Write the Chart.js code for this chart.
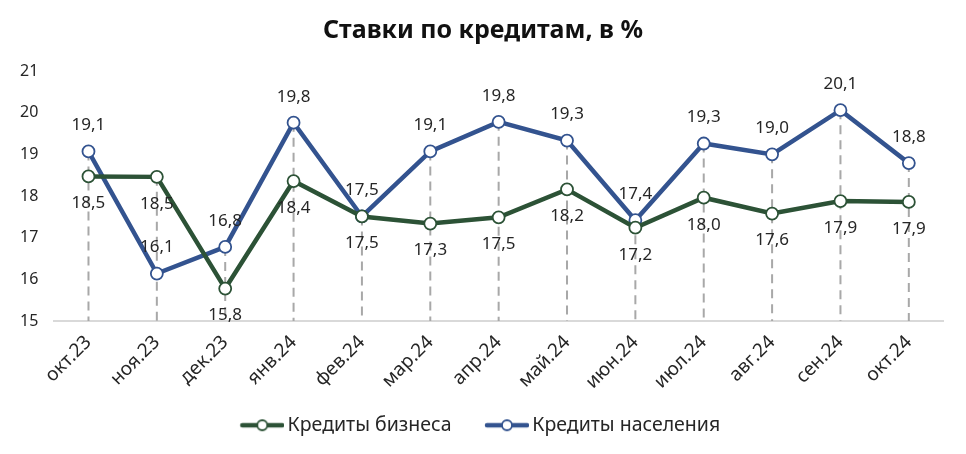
<!DOCTYPE html>
<html lang="ru">
<head>
    <meta charset="UTF-8">
    <title>Ставки по кредитам</title>
    <script src="https://cdn.jsdelivr.net/npm/chart.js"></script>
    <style>
        body { margin: 0; background: #fff; }
        #wrap { width: 966px; height: 454px; }
    </style>
</head>
<body>
<div id="wrap"><canvas id="rateChart"></canvas></div>

<script>
// месяцы
const months = ["окт.23", "ноя.23", "дек.23", "янв.24", "фев.24", "мар.24", "апр.24",
                "май.24", "июн.24", "июл.24", "авг.24", "сен.24", "окт.24"];
// ставки, %
const businessRates = [18.47, 18.46, 15.78, 18.36, 17.51, 17.34, 17.49, 18.16, 17.24, 17.96, 17.58, 17.88, 17.86];
const householdRates = [19.07, 16.14, 16.78, 19.76, 17.51, 19.07, 19.78, 19.33, 17.42, 19.26, 19.0, 20.06, 18.79];
const yTicks = [15, 16, 17, 18, 19, 20, 21];

const GREEN = "#2c5236";
const BLUE = "#33538f";
const FONT = "'Noto Sans', sans-serif";

// маркер для легенды: линия с кружком (сдвинут вправо, чтобы текст шёл вплотную)
function legendMarker(color) {
    const c = document.createElement("canvas");
    c.width = 64; c.height = 14;
    const ctx = c.getContext("2d");
    ctx.strokeStyle = color;
    ctx.lineWidth = 4.5;
    ctx.lineCap = "round";
    ctx.beginPath();
    ctx.moveTo(22, 7); ctx.lineTo(62, 7);
    ctx.stroke();
    ctx.beginPath();
    ctx.arc(42, 7, 5, 0, Math.PI * 2);
    ctx.fillStyle = "#fff";
    ctx.fill();
    ctx.lineWidth = 1.8;
    ctx.stroke();
    return c;
}

// заголовок по центру всего холста
const centerTitle = {
    id: "centerTitle",
    afterLayout(chart) {
        if (chart.titleBlock) {
            chart.titleBlock.left = 0;
            chart.titleBlock.right = chart.width;
        }
    }
};

// пунктир от верхней точки до оси
const dropLines = {
    id: "dropLines",
    beforeDatasetsDraw(chart) {
        const ctx = chart.ctx;
        const bottom = chart.chartArea.bottom;
        const metas = chart.data.datasets.map((d, i) => chart.getDatasetMeta(i));
        ctx.save();
        ctx.strokeStyle = "#a8a8a8";
        ctx.lineWidth = 2;
        ctx.setLineDash([9, 6]);
        metas[0].data.forEach((pt, i) => {
            const top = Math.min(...metas.map(m => m.data[i].y));
            ctx.beginPath();
            ctx.moveTo(pt.x, top);
            ctx.lineTo(pt.x, bottom);
            ctx.stroke();
        });
        ctx.restore();
    }
};

// подписи значений
const valueLabels = {
    id: "valueLabels",
    afterDatasetsDraw(chart) {
        const ctx = chart.ctx;
        ctx.save();
        ctx.font = "17px " + FONT;
        ctx.fillStyle = "#262626";
        ctx.textAlign = "center";
        ctx.textBaseline = "middle";
        chart.data.datasets.forEach((ds, di) => {
            const meta = chart.getDatasetMeta(di);
            const dy = di === 0 ? 27 : -26;
            meta.data.forEach((pt, i) => {
                const txt = ds.data[i].toFixed(1).replace(".", ",");
                ctx.fillText(txt, pt.x, pt.y + dy);
            });
        });
        ctx.restore();
    }
};

new Chart(document.getElementById("rateChart"), {
    type: "line",
    data: {
        labels: months,
        datasets: [
            {
                label: "Кредиты бизнеса",
                data: businessRates,
                borderColor: GREEN,
                backgroundColor: "#fff",
                borderWidth: 4.5,
                pointRadius: 6,
                pointBorderWidth: 1.8,
                pointBackgroundColor: "#fff",
                pointBorderColor: GREEN,
                tension: 0
            },
            {
                label: "Кредиты населения",
                data: householdRates,
                borderColor: BLUE,
                backgroundColor: "#fff",
                borderWidth: 4.5,
                pointRadius: 6,
                pointBorderWidth: 1.8,
                pointBackgroundColor: "#fff",
                pointBorderColor: BLUE,
                tension: 0
            }
        ]
    },
    options: {
        responsive: true,
        maintainAspectRatio: false,
        animation: false,
        layout: { padding: { left: 4, right: 23, top: 0, bottom: 9 } },
        scales: {
            x: {
                offset: true,
                grid: { display: false },
                border: { color: "#d9d9d9", width: 2 },
                ticks: {
                    color: "#262626",
                    font: { family: FONT, size: 19 },
                    minRotation: 45,
                    maxRotation: 45,
                    padding: 2
                },
                // подписи могут заходить под ось Y
                afterFit(scale) { scale.paddingLeft = 0; scale.paddingRight = 0; }
            },
            y: {
                min: yTicks[0],
                max: yTicks[yTicks.length - 1],
                afterBuildTicks(scale) { scale.ticks = yTicks.map(v => ({ value: v })); },
                grid: { display: false, drawTicks: false },
                border: { display: false },
                ticks: {
                    color: "#262626",
                    font: { family: FONT, size: 16 },
                    padding: 16
                }
            }
        },
        plugins: {
            title: {
                display: true,
                text: "Ставки по кредитам, в %",
                color: "#111",
                font: { family: FONT, size: 25, weight: "bold" },
                padding: { top: 16, bottom: 25 }
            },
            legend: {
                position: "bottom",
                labels: {
                    usePointStyle: true,
                    pointStyleWidth: 51,
                    color: "#262626",
                    font: { family: FONT, size: 19.5 },
                    padding: 20,
                    generateLabels(chart) {
                        return chart.data.datasets.map((ds, i) => ({
                            text: ds.label,
                            pointStyle: legendMarker(ds.borderColor),
                            fontColor: "#262626",
                            datasetIndex: i,
                            hidden: false,
                            lineWidth: 0
                        }));
                    }
                }
            },
            tooltip: { enabled: false }
        }
    },
    plugins: [centerTitle, dropLines, valueLabels]
});
</script>
</body>
</html>
